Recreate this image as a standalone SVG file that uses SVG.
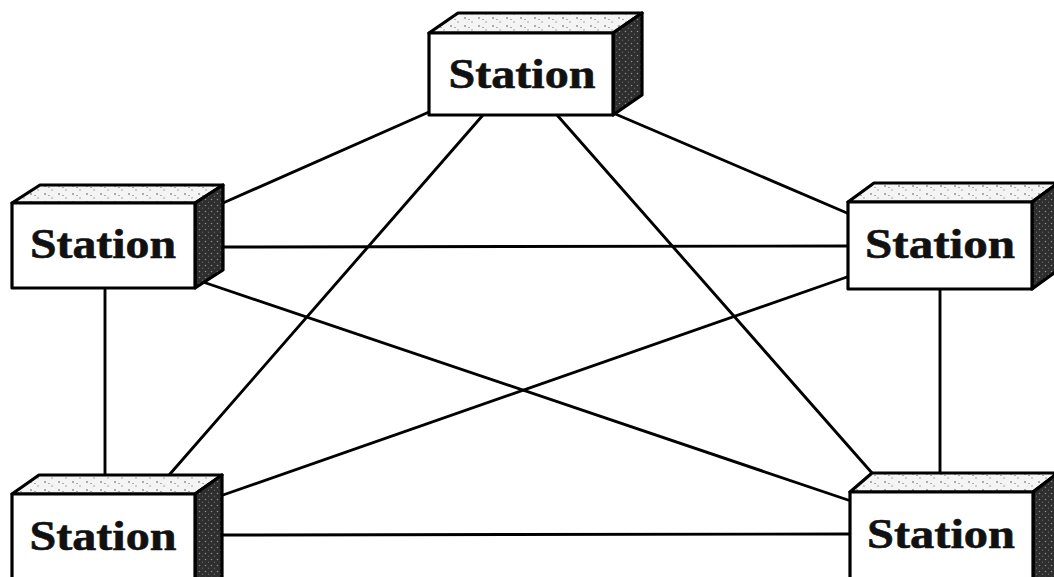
<svg xmlns="http://www.w3.org/2000/svg" width="1054" height="577" viewBox="0 0 1054 577">
<style>
.edge{stroke:#000;stroke-width:2.9;fill:none;stroke-linecap:round}
.front{fill:#fff;stroke:#000;stroke-width:3.2;stroke-linejoin:round}
.top{fill:url(#speck);stroke:#000;stroke-width:3.2;stroke-linejoin:round}
.side{fill:url(#dark);stroke:#000;stroke-width:3.2;stroke-linejoin:round}
.lbl{font-family:"Liberation Serif","Times New Roman",serif;font-weight:bold;font-size:42px;fill:#111;text-anchor:middle;stroke:#111;stroke-width:0.6}
</style>
<defs>
<pattern id="speck" width="14" height="8" patternUnits="userSpaceOnUse">
<rect width="14" height="8" fill="#f4f4f4"/>
<circle cx="3" cy="2" r="0.9" fill="#888"/>
<circle cx="10" cy="6" r="0.8" fill="#999"/>
<rect x="6" y="3" width="2" height="1" fill="#aaa"/>
</pattern>
<pattern id="dark" width="6" height="6" patternUnits="userSpaceOnUse">
<rect width="6" height="6" fill="#2e2e2e"/>
<circle cx="1.5" cy="1.5" r="0.8" fill="#8a8a8a"/>
<circle cx="4.5" cy="4.2" r="0.7" fill="#666"/>
</pattern>
</defs>
<g id="connectors">
<line class="edge" x1="429" y1="112" x2="223" y2="203"/>
<line class="edge" x1="613" y1="113" x2="847" y2="213"/>
<line class="edge" x1="483" y1="115" x2="170" y2="474"/>
<line class="edge" x1="557" y1="115" x2="872" y2="473"/>
<line class="edge" x1="223" y1="247" x2="847" y2="246"/>
<line class="edge" x1="203" y1="282" x2="848" y2="500"/>
<line class="edge" x1="847" y1="277" x2="223" y2="495"/>
<line class="edge" x1="105" y1="290" x2="105" y2="476"/>
<line class="edge" x1="940" y1="289" x2="940" y2="474"/>
<line class="edge" x1="223" y1="535" x2="849" y2="534"/>
</g>
<g id="station-top">
<polygon class="top" points="429,33 613,33 642,13 458,13"/>
<polygon class="side" points="613,33 642,13 642,95 613,115"/>
<rect class="front" x="429" y="33" width="184" height="82"/>
<text class="lbl" x="522" y="88" textLength="147" lengthAdjust="spacingAndGlyphs">Station</text>
</g>
<g id="station-left">
<polygon class="top" points="12,203 195,203 223,185 40,185"/>
<polygon class="side" points="195,203 223,185 223,270 195,288"/>
<rect class="front" x="12" y="203" width="183" height="85"/>
<text class="lbl" x="103" y="258" textLength="146" lengthAdjust="spacingAndGlyphs">Station</text>
</g>
<g id="station-right">
<polygon class="top" points="848,202 1032,202 1058,183 874,183"/>
<polygon class="side" points="1032,202 1058,183 1058,270 1032,289"/>
<rect class="front" x="848" y="202" width="184" height="87"/>
<text class="lbl" x="940" y="258" textLength="150" lengthAdjust="spacingAndGlyphs">Station</text>
</g>
<g id="station-bottom-left">
<polygon class="top" points="12,494 195,494 222,475 39,475"/>
<polygon class="side" points="195,494 222,475 222,580 195,590"/>
<rect class="front" x="12" y="494" width="183" height="96"/>
<text class="lbl" x="103" y="550" textLength="147" lengthAdjust="spacingAndGlyphs">Station</text>
</g>
<g id="station-bottom-right">
<polygon class="top" points="850,492 1033,492 1058,473 872,473"/>
<polygon class="side" points="1033,492 1058,473 1058,580 1033,590"/>
<rect class="front" x="850" y="492" width="183" height="98"/>
<text class="lbl" x="941" y="548" textLength="148" lengthAdjust="spacingAndGlyphs">Station</text>
</g>
</svg>
